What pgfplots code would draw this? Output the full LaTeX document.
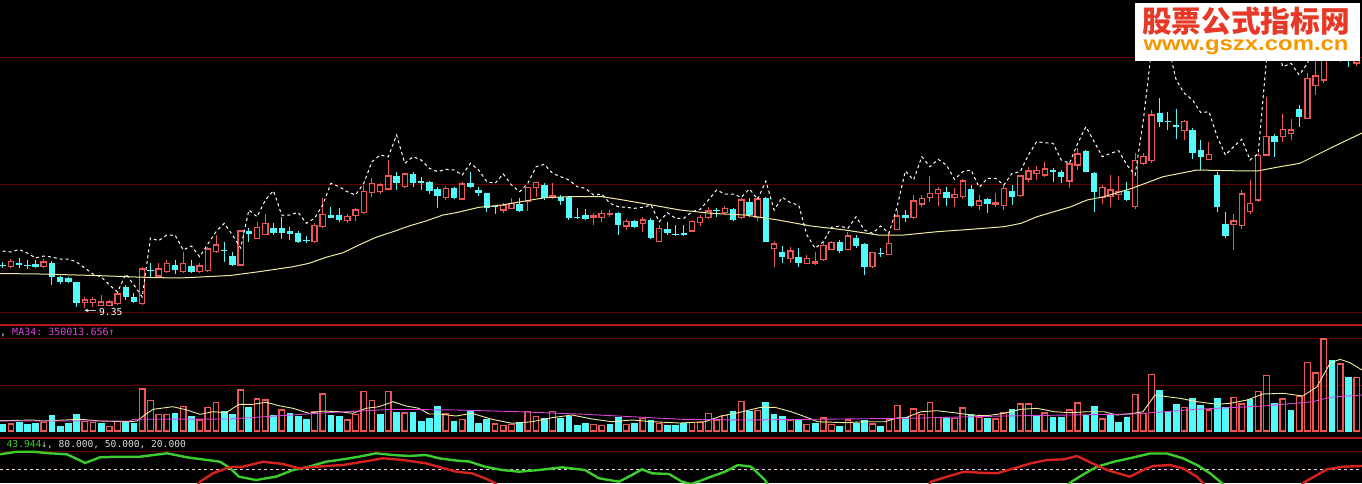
\documentclass[border=0pt]{standalone}
\usepackage{pgfplots}
\pgfplotsset{compat=1.18}
\usepackage{pgfplotstable}
\usepackage{graphicx}
\usepackage{fontspec}
\setmonofont{DejaVu Sans Mono}
\newfontfamily\cjk{Noto Sans CJK SC}
\newfontfamily\urlfont{Liberation Sans}

\definecolor{upred}{RGB}{236,86,86}
\definecolor{dncyan}{RGB}{84,250,250}
\definecolor{gridred}{RGB}{100,0,0}
\definecolor{border}{RGB}{185,25,25}
\definecolor{maline}{RGB}{240,235,160}
\definecolor{vmag}{RGB}{215,70,215}
\definecolor{kgreen}{RGB}{60,205,45}
\definecolor{dred}{RGB}{215,35,30}
\definecolor{wmred}{RGB}{232,56,40}
\definecolor{wmorange}{RGB}{243,152,0}

% all values are in screen rows (0 = top), candles at x = 2.7 + 8.206*i
% rising candles: body top/bottom, high, low
\pgfplotstableread{
i top bot hi lo
1 261.5 266.3 259 268.3
5 262 266.5 259 267
10 300 302.7 296.7 308.3
11 299.3 302.7 296.7 306.7
12 302 305.3 295 306
13 302 305.3 300 306
14 294 303.3 291.7 305
17 269 303.3 266.7 305
19 269 276 262.7 276.7
20 263.3 271.7 260 273.3
22 263.3 271.7 251.7 273.3
24 266 271.7 263.3 272.7
25 249 270.7 246.7 271.7
26 245 251.7 235 253.3
29 231 265 230 265.7
31 227.3 238.3 221.7 239
32 223.3 234.3 214.3 235
38 225.7 241.7 223.3 242.7
39 214.3 226.7 198.3 228.3
42 216.7 220.7 214.3 223.3
43 210 215.7 207.7 220.7
44 191.7 212.7 185 213.3
45 183.3 192.3 178.3 197.3
46 185 191.7 182.7 194
47 176 189 160 190
49 174 186.7 172.7 187.7
54 188.3 197.3 186 200
56 184 199 181.7 200
61 205.7 210 203.3 212.7
62 203.3 208.3 198.3 209.3
64 187.7 201.7 186.7 210.7
65 182.3 187.7 181.7 196.7
67 196 197.5 183.3 198.3
72 216 217.3 213.3 225
73 213.3 217.7 210 221.7
74 213.5 214.8 210 217.3
76 221.7 226 219.3 230
78 220 223.3 216.7 231.7
80 228.3 241.7 225 241.7
84 221.7 231 220 231.7
85 217.7 222.7 215 226
86 211 217.7 207.3 218.3
88 208.3 212.7 206 214
90 200 217.7 198.3 218.3
92 199 217.7 197.3 220.7
94 244 248.3 241 267.3
96 251 258.3 247.3 262.7
98 258.3 263.3 255 264
99 261.8 263 251.7 265
100 245.7 259.3 241.7 260.7
101 242.3 249.3 240.7 250
103 236 249.3 231.7 250
106 252.7 266.7 251.7 267.7
108 243.3 254.3 233.3 255
109 216 229.3 210 230
111 201 217.7 195 219.3
112 198.3 204 195 206.7
113 193.3 197.3 176 201.7
114 189.3 193.3 187.3 206
116 194.3 197.7 188.3 206.7
117 181 196.7 179.3 199.3
119 201 205.7 195 210
121 202.7 204 192.7 206.7
122 188.3 205.7 185 210
124 176 195.7 175 196.7
125 171 179 166.7 181.7
126 170.7 173.3 166 180
127 169 175 161.7 177.3
130 164 181 161.7 188.3
131 154 165 148.3 170
134 187.3 197.3 185 204
135 190 196.7 175 207.3
136 191.7 194.3 176 200
138 160.7 206.7 153.3 209
139 156.7 163.3 153 164.5
140 115 160.7 110 163.3
144 121.7 130.7 120 140
147 154.3 159.3 141.7 160
150 221 224.3 214 250
151 194 225.7 190 229.3
152 203.3 211.7 180 214
153 155.7 200 153.3 202.3
154 136.7 155 96.7 156
156 129.3 136.7 114 141.7
157 130 133.3 119.3 140
159 78.3 118.3 73.3 119
160 76 85.7 60 95
161 53.3 80 45 83.3
162 35 52 28 56
163 42 56 35 62
165 45 63 40 66
}\upC

% falling candles
\pgfplotstableread{
i top bot hi lo
0 264.8 266 262 268
2 262.7 265.3 258.3 268.3
3 265 266.3 260 269
4 264 266.7 260 268.3
6 263.3 277.3 261 285
7 277.3 281.7 276 284
8 278 282.3 276.7 283.3
9 282.3 303.3 281.7 306.7
15 286.7 297.3 285 300
16 296.7 301.7 293.3 303.3
18 270 271.3 263.3 276.7
21 265 270 260 274
23 265.7 272.3 260 273.3
27 250 251.3 241.7 261.7
28 256 265 251.7 265.7
30 231 234.3 228.3 241.7
33 228.3 232.7 223.3 235
34 228.3 233.3 216.7 239.3
35 231 234 226.7 240
36 233.3 241.7 231 242.7
37 240.2 241.3 235.7 243.3
40 215 217.7 207.3 218.3
41 215 220 208.3 221.7
48 176 182.7 171.7 190
50 174 182.7 171.7 186.7
51 180.7 183.3 176.7 190
52 182.3 190.7 181 194
53 189.3 195.7 186.7 208.3
55 187.7 198.3 186.7 199
57 183.3 187.3 171.7 188.3
58 190 193.3 186.7 196
59 193.3 208.3 192.7 211.7
60 206.2 207.3 205 214.3
63 204 210.7 198.3 211.7
66 185 198.3 183.3 200
68 196.7 201 195 205
69 196.7 218.3 196 220
70 217.2 218.3 208.3 219
71 215 219.3 209.3 220
75 213.3 225 211.7 235
77 221 226.7 220 227.7
79 220 238.3 218.3 239.3
81 229 233.3 221.7 235
82 233.8 235 225 235.7
83 233.4 234.6 225 235.7
87 209.5 210.7 207.7 216.7
89 209 220 207.7 220.7
91 201.7 215 198.3 216.7
93 197.7 241.7 196.7 242.3
95 252.3 257.3 246 263.3
97 257.3 263.3 248.3 266.7
102 242.3 251 240 252.7
104 237.7 246 235 248.3
105 244.3 266.7 243.3 275
107 252.8 254 248.3 256.7
110 215 217.5 210 221.7
115 191.7 197.7 187.3 206
118 189.3 206 185 206.7
120 199 204.3 198.3 213.3
123 190.7 196.7 185 205
128 170.2 171.5 167.7 181.7
129 171.7 177.3 170 182.7
132 151 171.7 150 172.3
133 172.7 191.7 171.7 211.7
137 190.7 200 181.7 200.7
141 112.7 121.7 98.3 127.3
142 121.2 122.4 111.7 130
143 125 127.3 109.3 139.3
145 130 152.7 128.3 159.3
146 150 156.7 140 170
148 175 207.3 171.7 212.3
149 224 236 211.7 238.3
155 136 141.7 134 156.7
158 109 116.7 105 127.3
164 45 55 40 67
}\dnC

% volume bar tops (base at row 431.7)
\pgfplotstableread{
i top
1 423.3
5 421.7
10 420.7
11 421.7
13 426
14 420.7
17 388.3
18 400
19 414
20 414
22 405.7
24 419.3
25 406.7
26 401.7
29 389.3
31 398.3
32 399.3
34 409.3
38 410.7
39 393.3
42 419.3
43 414
44 390.7
45 400
47 390.7
49 412.3
54 413.3
56 419
60 423.3
61 425
62 424
64 410.7
65 416
67 410.7
72 424
73 425
76 424
78 417.7
80 422.7
84 421.7
85 421.7
86 412.7
87 419.3
88 415
90 400.7
92 410
96 420
98 424
100 417.3
101 424
103 419.3
106 423.3
108 418.3
109 405
111 408.3
112 414
113 401.7
114 416.7
116 417.7
117 407.3
119 416.7
121 418.3
122 411.7
124 403.3
125 403.3
127 412.3
130 409.3
131 402.3
134 418.3
138 394
139 412.7
140 374
144 406.7
147 409.3
150 396.7
151 403.3
153 390.7
154 375
156 398.3
158 396
159 361.7
160 372.3
161 338.3
163 363.3
165 376.7
}\volR

\pgfplotstableread{
i top
0 424
2 421.7
3 424
4 423.3
6 415
7 426
8 423.3
9 414
12 422.7
15 421.7
16 422.7
21 413.3
23 416
27 410.7
28 414
30 407.3
33 415
35 412.7
36 416
37 419
40 415
41 416
46 414
48 412.3
50 412
51 421
52 418.3
53 406
55 421
57 411
58 422.7
59 419.3
63 421.7
66 418.3
68 417.7
69 416
70 425
71 422.7
74 424
75 416.7
77 423.3
79 420
81 425
82 425
83 423.3
89 411
91 410.7
93 402.3
94 414
95 416
97 420
99 422.7
102 426
104 422.7
105 420
107 426
110 417.3
115 416.7
118 414
120 417.7
123 409
126 415
128 416.7
129 416.7
132 415
133 406
135 415
136 421.7
137 416.7
141 390
142 410.7
143 404
145 398.3
146 405
148 398.3
149 406.7
152 399.3
155 402.7
157 410
162 360
164 377.3
}\volC

% dashed upper line
\pgfplotstableread{
i y
0 251
1 252
2 249.5
3 253
4 258
5 256
6 257
7 259
8 259
9 262
10 268
11 274
12 277
13 285
14 292
15 274
16 285
17 297
18 238
19 240.7
20 235
21 235
22 250
23 246
24 256.7
25 244
26 231.7
27 223.3
28 235
29 248
30 210
31 216.7
32 200
33 190.7
34 215
35 215
36 212.3
37 223.3
38 218.3
39 205
40 183.3
41 186.7
42 191.7
43 195
44 183.3
45 161.7
46 155
47 156.7
48 135
49 163.3
50 156.7
51 160
52 168.3
53 171.7
54 169.3
55 170
56 175
57 163.3
58 170
59 181.7
60 183.3
61 174
62 185
63 191.7
64 183.3
65 166.7
66 164.3
67 173.3
68 176.7
69 180
70 186.7
71 188.3
72 195
73 194
74 203.3
75 206.7
76 207.3
77 208.3
78 207.3
79 205
80 221.7
81 212.7
82 218.3
83 218.3
84 211.7
85 209.3
86 200
87 190
88 194
89 194
90 197.3
91 189
92 199.3
93 181
94 210
95 197.3
96 202.7
97 205
98 235
99 248.3
100 241.7
101 227.3
102 226
103 228.3
104 216.7
105 230
106 233.3
107 226
108 233.3
109 206.7
110 171
111 180
112 156.7
113 166.7
114 159.3
115 165
116 179.3
117 171.7
118 170
119 187.3
120 178.3
121 178.3
122 185
123 173.3
124 171.7
125 155
126 141.7
127 142.7
128 143.3
129 160
130 163.3
131 143.3
132 126.7
133 141.7
134 156.7
135 153.3
136 150.7
137 165
138 175
139 120
140 50
141 30
142 45
143 80
144 93.3
145 100
146 112.7
147 111.7
148 136.7
149 155
150 146.7
151 139.3
152 160
153 153.3
154 60
155 40
156 66.7
157 63.3
158 75
159 63.3
160 40
161 30
162 30
163 35
164 40
165 40
}\band

\begin{document}
\begin{tikzpicture}
\begin{axis}[
  scale only axis, width=1362pt, height=483pt,
  xmin=0, xmax=1362, ymin=0, ymax=483, y dir=reverse,
  axis background/.style={fill=black},
  axis line style={draw=none},
  xtick=\empty, ytick=\empty,
]
% panel grid and borders
\addplot[gridred, line width=1pt] coordinates {(0,57) (1362,57)};
\addplot[gridred, line width=1pt] coordinates {(0,184.5) (1362,184.5)};
\addplot[gridred, line width=1pt] coordinates {(0,312) (1362,312)};
\addplot[gridred, line width=1pt] coordinates {(0,338.5) (1362,338.5)};
\addplot[gridred, line width=1pt] coordinates {(0,385) (1362,385)};
\addplot[gridred, line width=1pt] coordinates {(0,451.5) (1362,451.5)};
\addplot[border, line width=1.8pt] coordinates {(0,325) (1362,325)};
\addplot[border, line width=1.8pt] coordinates {(0,438) (1362,438)};
\addplot[white!75!vmag, line width=0.8pt, dash pattern=on 3pt off 3pt] coordinates {(0,469.3) (1362,469.3)};

% volume bars: filled for falling days
\addplot[dncyan, line width=6.8pt, quiver={u=0, v=431.7-\thisrow{top}}]
  table[x expr={2.7+8.206*\thisrow{i}}, y=top] {\volC};
% hollow bars for rising days: left, right, top, bottom edges
\addplot[upred, line width=1.3pt, quiver={u=0, v=431.7-\thisrow{top}}]
  table[x expr={-0.05+8.206*\thisrow{i}}, y=top] {\volR};
\addplot[upred, line width=1.3pt, quiver={u=0, v=431.7-\thisrow{top}}]
  table[x expr={5.45+8.206*\thisrow{i}}, y=top] {\volR};
\addplot[upred, line width=1.3pt, quiver={u=6.8, v=0}]
  table[x expr={-0.7+8.206*\thisrow{i}}, y expr={\thisrow{top}+0.65}] {\volR};
\addplot[upred, line width=1.3pt, quiver={u=6.8, v=0}]
  table[x expr={-0.7+8.206*\thisrow{i}}, y expr={431.05}] {\volR};

% volume averages
\addplot[maline, line width=0.9pt] coordinates {(0,420.7) (33,420) (43,421) (80,419.3) (100,421) (130,421.7) (137,421) (147,413.3) (153,409.3) (173,406.7) (187,410) (200,414.3) (213,411.7) (226,412.7) (239,404.3) (253,404.3) (266,402.3) (279,405.7) (293,408.3) (309,413.3) (323,411) (339,411.7) (353,413.3) (366,408.3) (379,406.7) (393,401.7) (406,406) (419,408.3) (429,414) (439,414) (456,416) (472,413.3) (492,419.3) (512,423.3) (532,421.7) (552,417.7) (572,415) (592,419) (612,421.7) (632,420) (652,421.7) (680,423) (705,421.7) (721,416) (738,412.7) (761,407.3) (775,407.3) (791,411.7) (805,416.7) (818,421.7) (845,422.7) (865,421.7) (885,421.7) (898,417.7) (904,418.3) (921,411.7) (937,410.7) (954,412.7) (971,415) (987,415.7) (1004,413.3) (1021,409.3) (1037,408.3) (1054,411.7) (1071,412.7) (1087,411.7) (1104,411.7) (1117,415) (1132,413.5) (1143,411.7) (1155,395) (1167,396.7) (1180,398.3) (1197,401.7) (1217,404.3) (1230,403.3) (1247,400) (1263,394) (1283,393.3) (1303,396) (1317,386.7) (1330,363.3) (1340,359.3) (1350,362.7) (1362,370)};
\addplot[vmag, line width=0.9pt] coordinates {(0,421) (130,421) (133,419.3) (230,419) (326,412.7) (393,409.3) (456,410) (519,411.7) (585,414.3) (682,419.3) (745,420) (811,419.3) (908,418.3) (1004,416) (1134,414) (1197,409.3) (1263,406) (1313,401.7) (1330,397.3) (1362,395)};

% falling candles: wick and filled body
\addplot[dncyan, line width=1pt, quiver={u=0, v=\thisrow{lo}-\thisrow{hi}}]
  table[x expr={2.7+8.206*\thisrow{i}}, y=hi] {\dnC};
\addplot[dncyan, line width=6.4pt, quiver={u=0, v=\thisrow{bot}-\thisrow{top}}]
  table[x expr={2.7+8.206*\thisrow{i}}, y=top] {\dnC};
% rising candles: wicks above and below, hollow body
\addplot[upred, line width=1pt, quiver={u=0, v=\thisrow{top}-\thisrow{hi}}]
  table[x expr={2.7+8.206*\thisrow{i}}, y=hi] {\upC};
\addplot[upred, line width=1pt, quiver={u=0, v=\thisrow{lo}-\thisrow{bot}}]
  table[x expr={2.7+8.206*\thisrow{i}}, y=bot] {\upC};
\addplot[upred, line width=1.3pt, quiver={u=0, v=\thisrow{bot}-\thisrow{top}+1.3}]
  table[x expr={0.1+8.206*\thisrow{i}}, y expr={\thisrow{top}-0.65}] {\upC};
\addplot[upred, line width=1.3pt, quiver={u=0, v=\thisrow{bot}-\thisrow{top}+1.3}]
  table[x expr={5.3+8.206*\thisrow{i}}, y expr={\thisrow{top}-0.65}] {\upC};
\addplot[upred, line width=1.3pt, quiver={u=6.5, v=0}]
  table[x expr={-0.55+8.206*\thisrow{i}}, y=top] {\upC};
\addplot[upred, line width=1.3pt, quiver={u=6.5, v=0}]
  table[x expr={-0.55+8.206*\thisrow{i}}, y=bot] {\upC};

% price moving average and dashed band
\addplot[maline, line width=1pt] coordinates {(0,273.5) (40,274) (95,275.5) (150,277.5) (180,278) (230,275.5) (259,271.7) (293,266.7) (309,263.3) (326,257.3) (343,252.7) (359,245) (376,237.3) (393,231.7) (409,226) (426,221) (443,215) (456,212.7) (479,207.3) (502,205) (525,201) (545,197.7) (569,196.7) (602,196.7) (619,199.3) (652,205) (680,210) (711,213.3) (745,215) (778,220) (811,226) (845,230) (878,235) (904,235) (937,231.7) (971,229.3) (1004,226.7) (1021,223.3) (1037,216.7) (1054,211.7) (1071,206.7) (1087,200) (1104,196.7) (1132,188.3) (1163,176.7) (1197,170) (1230,170.7) (1257,171) (1280,166.7) (1300,163.3) (1330,148.3) (1362,133)};
\addplot[white, line width=1pt, dash pattern=on 3pt off 3pt]
  table[x expr={2.7+8.206*\thisrow{i}}, y=y] {\band};

% KDJ lines
\addplot[kgreen, line width=2.4pt] coordinates {(0,454.3) (17,451.7) (33,451.7) (50,453.3) (67,454.3) (77,459) (85,463) (100,457.3) (117,456.7) (140,456.7) (167,453.3) (187,457.3) (207,460) (220,461.7) (230,468) (239,476.7) (256,480) (276,476.7) (293,470) (309,466.7) (326,461.7) (343,459.3) (359,456.7) (376,453.3) (393,455) (409,456) (426,455) (439,458.3) (456,460.5) (469,461.5) (485,466.7) (502,470) (519,471.7) (539,470) (562,467.3) (585,470) (599,478.3) (619,481.7) (632,475) (642,469.3) (652,473.3) (669,474) (682,481.7) (691,484) (700,481) (711,476.7) (725,471.7) (738,465) (751,466.7) (765,480) (772,492)};
\addplot[kgreen, line width=2.4pt] coordinates {(1060,492) (1071,482) (1084,474) (1097,466.7) (1114,461.7) (1134,457.3) (1150,453.5) (1167,453.5) (1183,458.3) (1197,465) (1210,473.3) (1223,484) (1230,492)};
\addplot[dred, line width=2.4pt] coordinates {(193,492) (200,481.7) (213,473.3) (230,467) (243,466.7) (263,461.7) (283,464) (299,468.3) (316,466.7) (343,465) (363,461.7) (383,458.3) (403,460) (426,463.3) (456,471.7) (472,473.3) (485,478.3) (495,483) (503,492)};
\addplot[dred, line width=2.4pt] coordinates {(925,492) (931,481.7) (947,476.7) (964,471.7) (981,472.7) (997,473.3) (1014,468.3) (1031,463.3) (1047,460) (1064,459.3) (1077,456) (1091,462.7) (1107,470) (1124,475) (1130,476.7) (1143,470) (1153,466) (1170,465) (1183,468.3) (1197,476.7) (1203,483) (1208,492)};
\addplot[dred, line width=2.4pt] coordinates {(1298,492) (1303,483) (1317,475) (1327,469.3) (1343,466.7) (1362,466)};

% texts
\node[anchor=west, inner sep=0pt, font=\ttfamily\fontsize{10}{12}\selectfont]
  at (axis cs:0,332) {\textcolor{white!85!black}{,}\textcolor{vmag}{\ MA34:\ 350013.656↑}};
\node[anchor=west, inner sep=0pt, font=\ttfamily\fontsize{9.6}{12}\selectfont]
  at (axis cs:6.5,445) {\textcolor{kgreen}{43.944}\textcolor{white!85!black}{↓,\ 80.000,\ 50.000,\ 20.000}};
\node[anchor=west, inner sep=0pt, font=\ttfamily\fontsize{9.6}{12}\selectfont, white]
  at (axis cs:84,311.5) {\scalebox{2.2}[1]{←}};
\node[anchor=west, inner sep=0pt, font=\ttfamily\fontsize{9.6}{12}\selectfont, white]
  at (axis cs:99,311.5) {9.35};

% watermark
\fill[white] (axis cs:1135,2.7) rectangle (axis cs:1360,60.7);
\node[anchor=base, inner sep=0pt] at (axis cs:1246,32.8) {\resizebox{208pt}{!}{\cjk\bfseries\textcolor{wmred}{股票公式指标网}}};
\node[anchor=base, inner sep=0pt] at (axis cs:1246,50.4) {\resizebox{205pt}{10.8pt}{\urlfont\bfseries\textcolor{wmorange}{www.gszx.com.cn}}};
\end{axis}
\end{tikzpicture}
\end{document}
